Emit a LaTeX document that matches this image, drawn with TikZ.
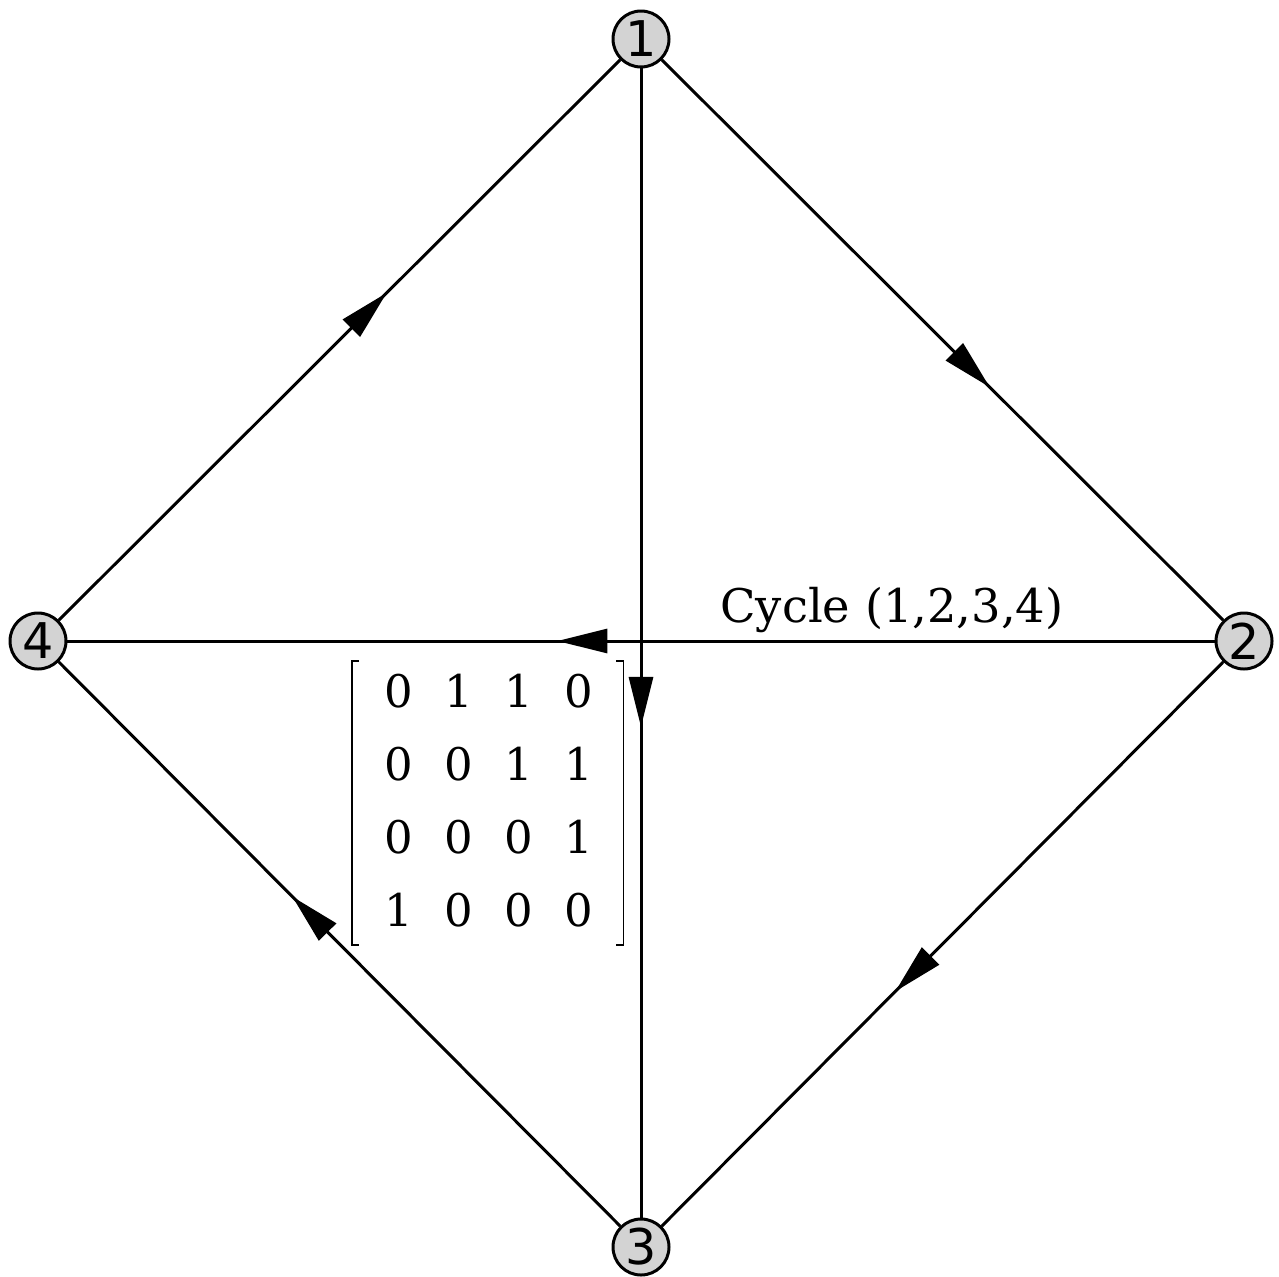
\documentclass[tikz,border=0pt]{standalone}
\usepackage{fontspec}
\setmainfont{DejaVu Serif}
\setsansfont{DejaVu Sans}
\usetikzlibrary{arrows.meta,decorations.markings,matrix}
\definecolor{nodegray}{HTML}{D3D3D3}

\begin{document}
\begin{tikzpicture}[
    vertex/.style={circle, draw, line width=0.85pt, fill=nodegray,
                   minimum size=0.56cm, inner sep=0pt,
                   font=\sffamily\fontsize{14}{14}\selectfont},
    edge/.style={line width=0.85pt, postaction={decorate},
                 decoration={markings, mark=at position #1 with
                   {\arrow{Triangle[length=0.5cm,width=0.24cm]}}}},
    edge/.default=0.573,
    entry/.style={minimum width=0.6cm, minimum height=0.727cm, inner sep=0pt,
                  font=\fontsize{12.8}{12.8}\selectfont},
    bracket/.style={line width=0.5pt},
  ]
  \useasboundingbox (0,0) rectangle (12.79,-12.76);

  \node[vertex] (n1) at (6.41,-0.39)  {1};
  \node[vertex] (n2) at (12.44,-6.41) {2};
  \node[vertex] (n3) at (6.41,-12.47) {3};
  \node[vertex] (n4) at (0.38,-6.41)  {4};

  \draw[edge=0.584] (n1) -- (n2);
  \draw[edge=0.584] (n2) -- (n3);
  \draw[edge=0.584] (n3) -- (n4);
  \draw[edge=0.584] (n4) -- (n1);
  \draw[edge] (n1) -- (n3);
  \draw[edge] (n2) -- (n4);

  \node[anchor=base, font=\fontsize{13.2}{13.2}\selectfont] (cyclelbl)
    at (8.92,-6.22) {Cycle (1,2,3,4)};

  % adjacency matrix
  \matrix (adj) at (4.8875,-8.00) [matrix of nodes, nodes={entry},
      inner sep=0pt, column sep=0pt, row sep=0pt] {
    0 & 1 & 1 & 0 \\
    0 & 0 & 1 & 1 \\
    0 & 0 & 0 & 1 \\
    1 & 0 & 0 & 0 \\
  };
  \draw[bracket] ([xshift=-0.09cm,yshift=-0.08cm]adj.north west)
    -| ([xshift=-0.16cm,yshift=0.02cm]adj.south west) -- ++(0.07,0);
  \draw[bracket] ([xshift=0.07cm,yshift=-0.08cm]adj.north east)
    -| ([xshift=0.14cm,yshift=0.02cm]adj.south east) -- ++(-0.07,0);
\end{tikzpicture}
\end{document}
